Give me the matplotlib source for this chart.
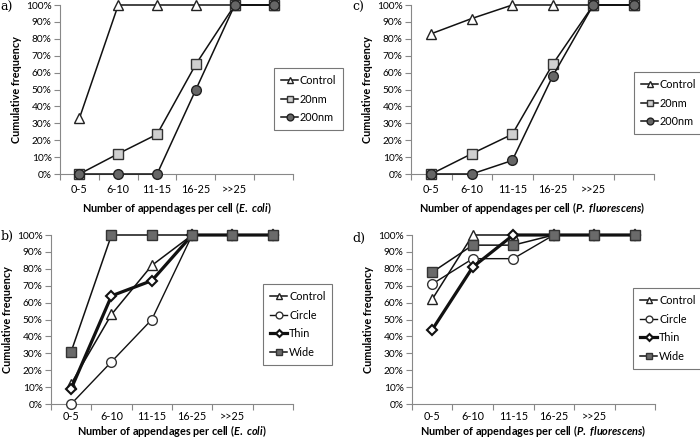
import matplotlib
matplotlib.use("Agg")
import matplotlib.pyplot as plt

plt.rcParams['font.family'] = ['Lato', 'DejaVu Sans']
plt.rcParams['mathtext.fontset'] = 'custom'
plt.rcParams['mathtext.it'] = 'Lato:italic:bold'
plt.rcParams['mathtext.rm'] = 'Lato:bold'

categories = ['0-5', '6-10', '11-15', '16-25', '>>25', '']

# panel a (E. coli, particle size)
a_control = [0.33, 1.00, 1.00, 1.00, 1.00, 1.00]
a_20nm = [0.00, 0.12, 0.235, 0.65, 1.00, 1.00]
a_200nm = [0.00, 0.00, 0.00, 0.50, 1.00, 1.00]

# panel c (P. fluorescens, particle size)
c_control = [0.83, 0.92, 1.00, 1.00, 1.00, 1.00]
c_20nm = [0.00, 0.12, 0.235, 0.65, 1.00, 1.00]
c_200nm = [0.00, 0.00, 0.08, 0.58, 1.00, 1.00]

# panel b (E. coli, shape)
b_control = [0.12, 0.53, 0.82, 1.00, 1.00, 1.00]
b_circle = [0.00, 0.25, 0.50, 1.00, 1.00, 1.00]
b_thin = [0.09, 0.64, 0.73, 1.00, 1.00, 1.00]
b_wide = [0.31, 1.00, 1.00, 1.00, 1.00, 1.00]

# panel d (P. fluorescens, shape)
d_control = [0.62, 1.00, 1.00, 1.00, 1.00, 1.00]
d_circle = [0.71, 0.86, 0.86, 1.00, 1.00, 1.00]
d_thin = [0.44, 0.81, 1.00, 1.00, 1.00, 1.00]
d_wide = [0.78, 0.94, 0.94, 1.00, 1.00, 1.00]

STYLES = {
    'Control': dict(marker='^', mfc='white', mec='#222222', lw=1.1, ms=7),
    '20nm': dict(marker='s', mfc='#d0d0d0', mec='#333333', lw=1.1, ms=6.5),
    '200nm': dict(marker='o', mfc='#666666', mec='#222222', lw=1.1, ms=7),
    'Circle': dict(marker='o', mfc='white', mec='#333333', lw=1.0, ms=7),
    'Thin': dict(marker='D', mfc='white', mec='#111111', lw=2.3, ms=5, mew=1.5),
    'Wide': dict(marker='s', mfc='#6a6a6a', mec='#333333', lw=1.1, ms=6.5),
}

W, H = 700, 440
fig = plt.figure(figsize=(W / 100, H / 100), dpi=100)


def px_axes(x0, x1, ytop, ybot):
    return fig.add_axes([x0 / W, 1 - ybot / H, (x1 - x0) / W, (ybot - ytop) / H])


def panel(ax, series, species, legend_box, tpad=7, lpad=4):
    xs = list(range(len(categories)))
    for name, ys in series:
        st = dict(STYLES[name])
        ax.plot(xs, ys, color='#111111', label=name, clip_on=False, zorder=3, **st)
    ax.set_xlim(-0.5, len(categories) - 0.5)
    ax.set_ylim(0, 1)
    ax.set_yticks([i / 10 for i in range(11)])
    ax.set_yticklabels([f'{i * 10}%' for i in range(11)], fontsize=7.3)
    ax.set_xticks([i - 0.5 for i in range(len(categories) + 1)])
    ax.set_xticklabels([])
    ax.set_xticks(xs, minor=True)
    ax.set_xticklabels(categories, minor=True, fontsize=7.8)
    ax.tick_params(axis='x', which='major', length=4, color='#888888')
    ax.tick_params(axis='x', which='minor', length=0, pad=tpad)
    ax.tick_params(axis='y', length=4, color='#888888', pad=2)
    for s in ['top', 'right']:
        ax.spines[s].set_visible(False)
    for s in ['left', 'bottom']:
        ax.spines[s].set_color('#888888')
    ax.set_ylabel('Cumulative frequency', fontsize=7.8, fontweight='bold', labelpad=3)
    ax.set_xlabel('Number of appendages per cell ($\\mathit{' + species + '}$)',
                  fontsize=7.8, fontweight='bold', labelpad=lpad)
    leg = ax.legend(loc='upper left', bbox_to_anchor=legend_box, bbox_transform=fig.transFigure,
                    frameon=True, fancybox=False, fontsize=7.8, numpoints=1, markerscale=0.7,
                    handlelength=1.6, handletextpad=0.15, labelspacing=0.7,
                    borderpad=0.65, borderaxespad=0)
    leg.get_frame().set_edgecolor('#555555')
    leg.get_frame().set_linewidth(0.8)


ax_a = px_axes(60, 293, 5, 174)
panel(ax_a, [('Control', a_control), ('20nm', a_20nm), ('200nm', a_200nm)],
      'E.\\ coli', (274 / W, 1 - 68 / H))

ax_c = px_axes(411, 654, 5, 174)
panel(ax_c, [('Control', c_control), ('20nm', c_20nm), ('200nm', c_200nm)],
      'P.\\ fluorescens', (634 / W, 1 - 72 / H))

ax_b = px_axes(51, 293, 235, 404)
panel(ax_b, [('Control', b_control), ('Circle', b_circle), ('Thin', b_thin), ('Wide', b_wide)],
      'E.\\ coli', (263 / W, 1 - 284 / H), tpad=5, lpad=1)

ax_d = px_axes(412, 655, 235, 404)
panel(ax_d, [('Control', d_control), ('Circle', d_circle), ('Thin', d_thin), ('Wide', d_wide)],
      'P.\\ fluorescens', (633 / W, 1 - 288 / H), tpad=5, lpad=1)

for lab, x, y in [('a)', 0, 7), ('c)', 352, 7), ('b)', 1, 236), ('d)', 352, 238)]:
    fig.text(x / W, 1 - y / H, lab, family='DejaVu Serif', fontsize=9, va='center', ha='left')

fig.savefig('out.png', dpi=100)
